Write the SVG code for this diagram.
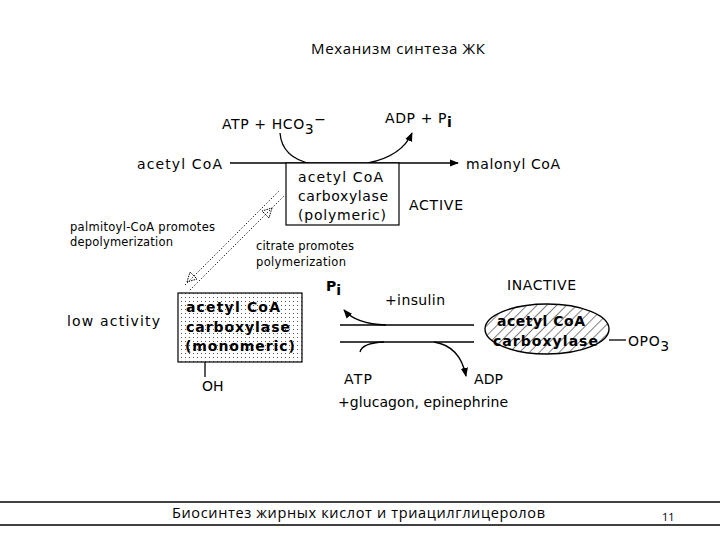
<svg xmlns="http://www.w3.org/2000/svg" width="720" height="540" viewBox="0 0 720 540">
<defs>
<style>
.t{font-family:"DejaVu Sans","Liberation Sans",sans-serif;font-size:14px;fill:#000}
.s{font-family:"DejaVu Sans","Liberation Sans",sans-serif;font-size:11.5px;fill:#000}
.b{font-family:"DejaVu Sans","Liberation Sans",sans-serif;font-size:14px;font-weight:bold;fill:#000}
.c{font-family:"Open Sans","Liberation Sans",sans-serif;fill:#000}
.ln{stroke:#000;stroke-width:1.3;fill:none}
.dot{stroke:#000;stroke-width:1;stroke-dasharray:1.2 2;fill:none}
</style>
<pattern id="dots" width="4" height="4" patternUnits="userSpaceOnUse"><rect width="4" height="4" fill="#fff"/><rect x="1" y="1" width="1" height="1" fill="#555"/></pattern>
<pattern id="hatch" width="7" height="7" patternUnits="userSpaceOnUse" patternTransform="rotate(45)"><rect width="7" height="7" fill="#fff"/><line x1="0" y1="0" x2="0" y2="7" stroke="#000" stroke-width="1"/></pattern>
<marker id="ah" viewBox="0 0 10 10" refX="9" refY="5" markerWidth="7" markerHeight="7" orient="auto"><path d="M0,1 L10,5 L0,9 Z" fill="#000"/></marker>
</defs>

<text class="c" x="398" y="54" font-size="15" text-anchor="middle" textLength="174">Механизм синтеза ЖК</text>

<g id="connectors">
<line class="ln" x1="230" y1="163" x2="458" y2="163" stroke-width="2" marker-end="url(#ah)"/>
<path class="ln" d="M280,133 Q282,158 312,164"/>
<path class="ln" d="M368,163 Q402,156 412,133" marker-end="url(#ah)"/>
<line class="dot" x1="185" y1="285" x2="280" y2="190"/>
<line class="dot" x1="190" y1="290" x2="285" y2="195"/>
<path d="M187,282 l3,-10 l7,7 Z" fill="none" stroke="#000" stroke-width="1" stroke-dasharray="1.5 1"/>
<path d="M272,208 l-3,10 l-7,-7 Z" fill="none" stroke="#000" stroke-width="1" stroke-dasharray="1.5 1"/>
<line class="ln" x1="340" y1="325" x2="474" y2="325"/>
<line class="ln" x1="340" y1="342" x2="474" y2="342"/>
<path class="ln" d="M386,325 Q356,324 344,310" marker-end="url(#ah)"/>
<path class="ln" d="M360,352 Q362,343 384,342"/>
<path class="ln" d="M434,342 Q460,346 466,376" marker-end="url(#ah)"/>
<line class="ln" x1="205" y1="362" x2="205" y2="377"/>
<line class="ln" x1="609" y1="340" x2="626" y2="340"/>
</g>

<g id="labels">
<text class="t" x="222" y="129" letter-spacing="0.6">ATP + HCO<tspan dy="5">3</tspan><tspan dy="-10">−</tspan></text>
<text class="t" x="385" y="123" letter-spacing="0.6">ADP + P<tspan dy="4" font-weight="bold">i</tspan></text>
<text class="t" x="137" y="169" textLength="85">acetyl CoA</text>
<text class="t" x="466" y="169" textLength="94">malonyl CoA</text>
<text class="t" x="409" y="210" textLength="54">ACTIVE</text>
<text class="s" x="70" y="231" textLength="145">palmitoyl-CoA promotes</text>
<text class="s" x="70" y="246" textLength="103">depolymerization</text>
<text class="s" x="256" y="250" textLength="98">citrate promotes</text>
<text class="s" x="256" y="266" textLength="90">polymerization</text>
<text class="t" x="67" y="326" font-size="15" textLength="93">low activity</text>
<text class="t" x="202" y="391" font-size="13">OH</text>
<text class="t" x="326" y="291" font-weight="bold">P<tspan dy="4">i</tspan></text>
<text class="t" x="385" y="305" textLength="60">+insulin</text>
<text class="t" x="507" y="290" textLength="69">INACTIVE</text>
<text class="t" x="628" y="346" letter-spacing="0.6">OPO<tspan dy="5">3</tspan></text>
<text class="t" x="344" y="384" textLength="28">ATP</text>
<text class="t" x="474" y="384" textLength="29">ADP</text>
<text class="t" x="338" y="407" textLength="170">+glucagon, epinephrine</text>
</g>

<g id="polymeric">
<rect x="286" y="163" width="113" height="62" fill="#fff" stroke="#000" stroke-width="1.2"/>
<text class="t" x="298" y="182" textLength="85">acetyl CoA</text>
<text class="t" x="298" y="201" textLength="90">carboxylase</text>
<text class="t" x="298" y="220" textLength="88">(polymeric)</text>
</g>

<g id="monomeric">
<rect x="178" y="293" width="124" height="69" fill="url(#dots)" stroke="#000" stroke-width="1.2"/>
<text class="b" x="186" y="312" textLength="94">acetyl CoA</text>
<text class="b" x="186" y="332" textLength="104">carboxylase</text>
<text class="b" x="185" y="351" textLength="110">(monomeric)</text>
</g>

<g id="inactive">
<ellipse cx="547" cy="329" rx="62" ry="25" fill="url(#hatch)" stroke="#000" stroke-width="1.4"/>
<text class="b" x="497" y="326" textLength="88">acetyl CoA</text>
<text class="b" x="493" y="346" textLength="105">carboxylase</text>
</g>

<g id="footer">
<line x1="0" y1="502" x2="720" y2="502" stroke="#000" stroke-width="1.3"/>
<line x1="0" y1="525" x2="720" y2="525" stroke="#000" stroke-width="1.3"/>
<text class="c" x="172" y="518" font-size="14.5" textLength="373">Биосинтез жирных кислот и триацилглицеролов</text>
<text class="c" x="662" y="521" font-size="11" fill="#333">11</text>
</g>
</svg>
